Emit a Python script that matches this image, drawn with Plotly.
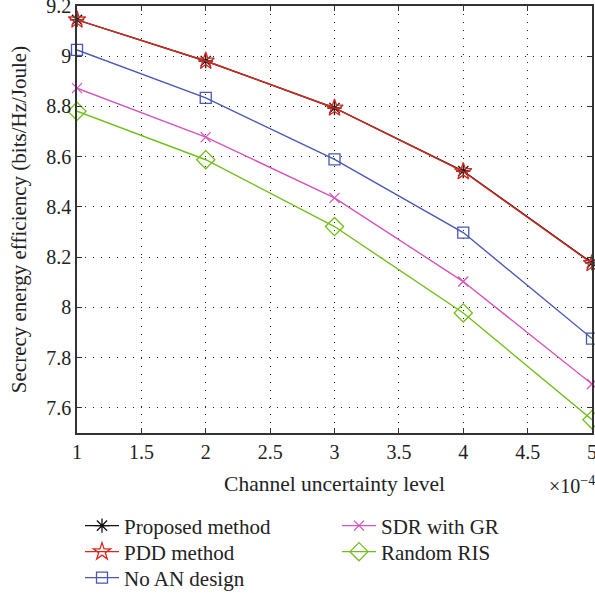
import plotly.graph_objects as go

x_vals = [1, 2, 3, 4, 5]
proposed = [9.145, 8.981, 8.794, 8.543, 8.177]
pdd = [9.145, 8.981, 8.794, 8.541, 8.175]
no_an = [9.025, 8.834, 8.589, 8.298, 7.876]
sdr_gr = [8.873, 8.678, 8.436, 8.103, 7.695]
random_ris = [8.781, 8.588, 8.322, 7.978, 7.553]

x_ticks = [1, 1.5, 2, 2.5, 3, 3.5, 4, 4.5, 5]
y_ticks = [7.6, 7.8, 8, 8.2, 8.4, 8.6, 8.8, 9, 9.2]
y_tick_text = ["7.6", "7.8", "8", "8.2", "8.4", "8.6", "8.8", "9", "9.2"]

FONT = "Liberation Serif"
W, H = 595, 601
L, R, T, B = 77, 3, 6, 168
PW, PH = W - L - R, H - T - B


def px_x(px):
    return (px - L) / PW


def px_y(py):
    return (H - B - py) / PH


fig = go.Figure()

legend_pos = [(80, 526), (80, 552), (80, 578), (337, 526), (337, 552)]

series = [
    ("Proposed method", proposed, "#111111", "asterisk-open", 12),
    ("PDD method", pdd, "#d9281e", "star-open", 13),
    ("No AN design", no_an, "#4a58b4", "square-open", 11),
    ("SDR with GR", sdr_gr, "#d653be", "x-thin-open", 10),
    ("Random RIS", random_ris, "#72c01a", "diamond-open", 14),
]
legend_font = dict(family=FONT, size=21, color="#222222")
layout_legends = {}
for i, (name, ys, col, sym, sz) in enumerate(series):
    lg = "legend" if i == 0 else f"legend{i + 1}"
    fig.add_trace(go.Scatter(
        x=x_vals, y=ys, name=name, mode="lines+markers",
        line=dict(color=col, width=1.4),
        marker=dict(symbol=sym, size=sz, color=col, line=dict(color=col, width=1.3)),
        legend=lg, cliponaxis=False,
    ))
    lx, ly = legend_pos[i]
    layout_legends[lg] = dict(
        x=px_x(lx), y=px_y(ly), xanchor="left", yanchor="middle",
        font=legend_font, bgcolor="rgba(0,0,0,0)", borderwidth=0,
        itemwidth=34, tracegroupgap=0,
    )

axis_common = dict(
    showline=True, linecolor="#333333", linewidth=1.5, mirror="ticks",
    ticks="inside", ticklen=5, tickcolor="#333333", tickwidth=1,
    showgrid=True, gridcolor="#222222", gridwidth=1, griddash="1px,7px",
    zeroline=False, tickfont=dict(family=FONT, size=20, color="#222222"),
    automargin=False, ticklabeloverflow="allow",
)

fig.update_xaxes(range=[1, 5], tickvals=x_ticks, ticktext=[f"{v:g}" for v in x_ticks],
                 title=dict(text="Channel uncertainty level", font=dict(family=FONT, size=21.5, color="#222222"), standoff=14),
                 **axis_common)
fig.update_yaxes(range=[7.5, 9.2], tickvals=y_ticks, ticktext=y_tick_text,
                 title=dict(text="Secrecy energy efficiency (bits/Hz/Joule)", font=dict(family=FONT, size=21, color="#222222"), standoff=14),
                 **axis_common)

fig.update_layout(
    width=W, height=H,
    margin=dict(l=L, r=R, t=T, b=B, autoexpand=False),
    plot_bgcolor="white", paper_bgcolor="white",
    showlegend=True,
    annotations=[dict(xref="paper", yref="paper", x=px_x(547), y=px_y(485), xanchor="left", yanchor="middle",
                      showarrow=False,
                      text="×10<sup>−4</sup>", font=dict(family=FONT, size=20, color="#222222"))],
    **layout_legends,
)

fig.write_html("out.html", config={"displayModeBar": False},
               post_script="document.body.style.margin='0';document.body.style.overflow='hidden';")
